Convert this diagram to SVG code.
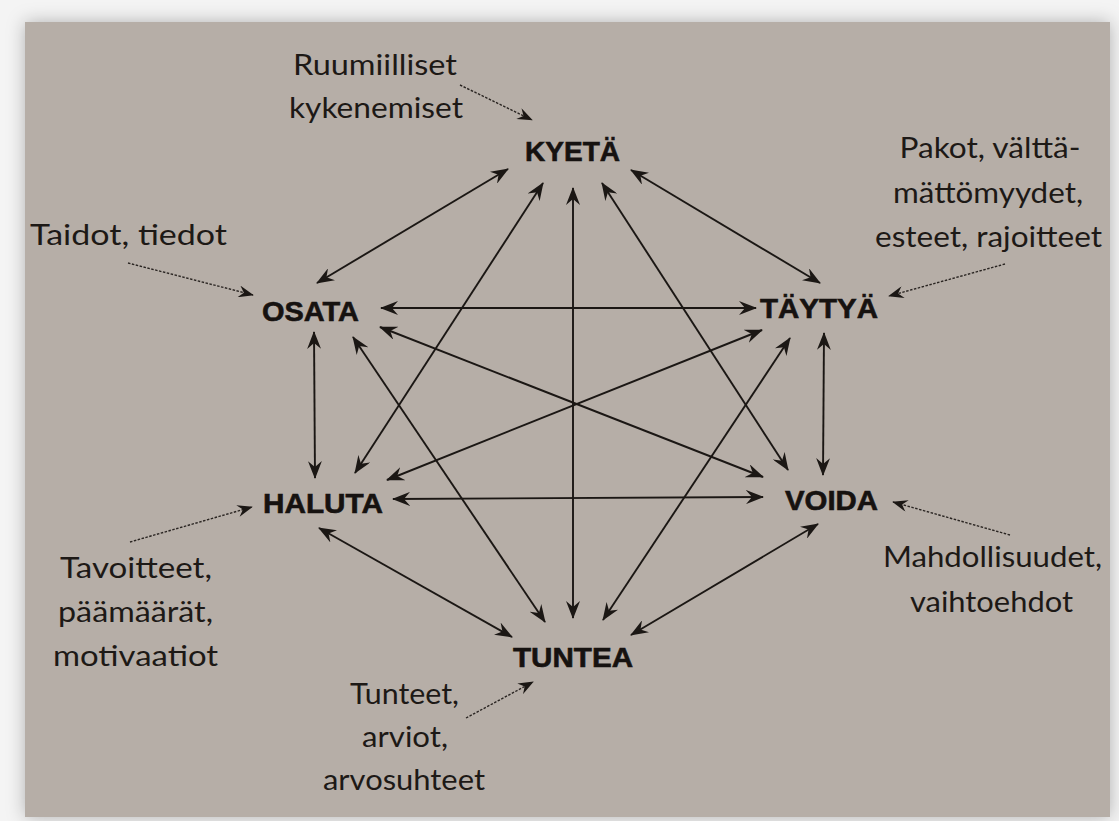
<svg xmlns="http://www.w3.org/2000/svg" width="1119" height="821" viewBox="0 0 1119 821">
  <defs>
    <filter id="shadow" x="-5%" y="-5%" width="110%" height="110%">
      <feDropShadow dx="0" dy="0" stdDeviation="9" flood-color="#000" flood-opacity="0.28"/>
    </filter>
    <marker id="ah" viewBox="0 0 18 14" refX="17" refY="7" markerWidth="18" markerHeight="14" markerUnits="userSpaceOnUse" orient="auto-start-reverse">
      <path d="M0,0 L18,7 L0,14 L6,7 Z" fill="#1b1714"/>
    </marker>
    <marker id="ahs" viewBox="0 0 18 14" refX="17" refY="7" markerWidth="16" markerHeight="12" markerUnits="userSpaceOnUse" orient="auto">
      <path d="M0,0 L18,7 L0,14 L6,7 Z" fill="#1b1714"/>
    </marker>
  </defs>
  <style>
    .node { font-family: "Liberation Sans", Arial, sans-serif; font-weight: bold; font-size: 28px; fill: #161210; stroke: #161210; stroke-width: 0.6; text-anchor: middle; }
    .note { font-family: "Lato", "Liberation Sans", Arial, sans-serif; font-size: 28px; fill: #1d1916; text-anchor: middle; }
    .link { stroke: #1b1714; stroke-width: 1.9; fill: none; marker-start: url(#ah); marker-end: url(#ah); }
    .hint { stroke: #2a2522; stroke-width: 1.4; stroke-dasharray: 2.5 1.5; fill: none; marker-end: url(#ahs); }
  </style>
  <rect x="0" y="0" width="1119" height="821" fill="#f4f4f4"/>
  <rect x="25" y="22" width="1085" height="795" fill="#b6aea7" filter="url(#shadow)"/>

  <g id="connectors">
    <line class="link" x1="508" y1="169" x2="317" y2="283"/>
    <line class="link" x1="543" y1="183" x2="355" y2="473"/>
    <line class="link" x1="573" y1="188" x2="573" y2="618"/>
    <line class="link" x1="602" y1="183" x2="788" y2="470"/>
    <line class="link" x1="631" y1="170" x2="820" y2="283"/>
    <line class="link" x1="381" y1="308" x2="756" y2="308"/>
    <line class="link" x1="380" y1="327" x2="763" y2="477"/>
    <line class="link" x1="353" y1="337" x2="545" y2="622"/>
    <line class="link" x1="314" y1="332" x2="315" y2="478"/>
    <line class="link" x1="387" y1="480" x2="762" y2="330"/>
    <line class="link" x1="393" y1="499" x2="763" y2="497"/>
    <line class="link" x1="319" y1="528" x2="512" y2="637"/>
    <line class="link" x1="790" y1="338" x2="603" y2="620"/>
    <line class="link" x1="824" y1="333" x2="823" y2="475"/>
    <line class="link" x1="818" y1="524" x2="631" y2="635"/>
    <line class="hint" x1="460" y1="85" x2="532" y2="120"/>
    <line class="hint" x1="1005" y1="264" x2="889" y2="296"/>
    <line class="hint" x1="128" y1="263" x2="253" y2="295"/>
    <line class="hint" x1="130" y1="542" x2="252" y2="507"/>
    <line class="hint" x1="1010" y1="535" x2="893" y2="502"/>
    <line class="hint" x1="466" y1="718" x2="533" y2="682"/>
  </g>

  <g id="kyeta"><text class="node" x="572.5" y="161" textLength="95" lengthAdjust="spacingAndGlyphs">KYETÄ</text></g>
  <g id="osata"><text class="node" x="310.5" y="321" textLength="97" lengthAdjust="spacingAndGlyphs">OSATA</text></g>
  <g id="taytya"><text class="node" x="819" y="318" textLength="118" lengthAdjust="spacingAndGlyphs">TÄYTYÄ</text></g>
  <g id="haluta"><text class="node" x="323" y="513" textLength="120" lengthAdjust="spacingAndGlyphs">HALUTA</text></g>
  <g id="voida"><text class="node" x="831.5" y="510" textLength="93" lengthAdjust="spacingAndGlyphs">VOIDA</text></g>
  <g id="tuntea"><text class="node" x="573" y="667" textLength="120" lengthAdjust="spacingAndGlyphs">TUNTEA</text></g>

  <g id="note-kyeta">
    <text class="note" x="375" y="75" textLength="164" lengthAdjust="spacingAndGlyphs">Ruumiilliset</text>
    <text class="note" x="376" y="118" textLength="174" lengthAdjust="spacingAndGlyphs">kykenemiset</text>
  </g>
  <g id="note-taytya">
    <text class="note" x="990" y="158" textLength="181" lengthAdjust="spacingAndGlyphs">Pakot, välttä-</text>
    <text class="note" x="988" y="203" textLength="190" lengthAdjust="spacingAndGlyphs">mättömyydet,</text>
    <text class="note" x="988.5" y="247" textLength="227" lengthAdjust="spacingAndGlyphs">esteet, rajoitteet</text>
  </g>
  <g id="note-osata">
    <text class="note" x="128.5" y="245" textLength="197" lengthAdjust="spacingAndGlyphs">Taidot, tiedot</text>
  </g>
  <g id="note-haluta">
    <text class="note" x="136" y="578" textLength="152" lengthAdjust="spacingAndGlyphs">Tavoitteet,</text>
    <text class="note" x="135.5" y="622" textLength="155" lengthAdjust="spacingAndGlyphs">päämäärät,</text>
    <text class="note" x="135.5" y="666" textLength="165" lengthAdjust="spacingAndGlyphs">motivaatiot</text>
  </g>
  <g id="note-voida">
    <text class="note" x="992.5" y="567" textLength="219" lengthAdjust="spacingAndGlyphs">Mahdollisuudet,</text>
    <text class="note" x="991.5" y="612" textLength="163" lengthAdjust="spacingAndGlyphs">vaihtoehdot</text>
  </g>
  <g id="note-tuntea">
    <text class="note" x="404.5" y="704" textLength="109" lengthAdjust="spacingAndGlyphs">Tunteet,</text>
    <text class="note" x="405" y="747" textLength="86" lengthAdjust="spacingAndGlyphs">arviot,</text>
    <text class="note" x="404" y="790" textLength="162" lengthAdjust="spacingAndGlyphs">arvosuhteet</text>
  </g>
</svg>
